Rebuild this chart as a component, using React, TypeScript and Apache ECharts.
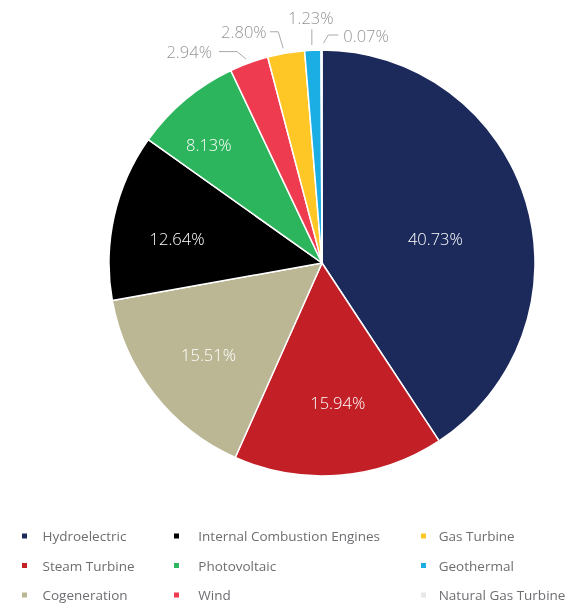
import React, { useEffect, useRef } from "react";
import * as echarts from "echarts";

// ---- data ----
const categories = [
  "Hydroelectric",
  "Steam Turbine",
  "Cogeneration",
  "Internal Combustion Engines",
  "Photovoltaic",
  "Wind",
  "Gas Turbine",
  "Geothermal",
  "Natural Gas Turbine",
];
const shares = [40.73, 15.94, 15.51, 12.64, 8.13, 2.94, 2.8, 1.23, 0.07];

// legend columns (row-major reading order of the reference legend)
const legendCol1 = ["Hydroelectric", "Steam Turbine", "Cogeneration"];
const legendCol2 = ["Internal Combustion Engines", "Photovoltaic", "Wind"];
const legendCol3 = ["Gas Turbine", "Geothermal", "Natural Gas Turbine"];

// ---- styles ----
const colors = [
  "#1b2a5a",
  "#c21f26",
  "#bbb795",
  "#000000",
  "#2db55d",
  "#ef3b50",
  "#ffc726",
  "#1aaee5",
  "#e6e7e8",
];
const LEGEND_FONT = "Open Sans";
const LABEL_FONT = "Open Sans";
const LABEL_SIZE = 16.5;
const CX = 322;
const CY = 263;
const R = 213;
// inside labels: radial distance and angular nudge (degrees, clockwise)
const insideGeom: Record<number, { r: number; da: number }> = {
  0: { r: 116, da: 4.5 },
  1: { r: 140, da: -1.8 },
  2: { r: 145.5, da: -0.7 },
  3: { r: 147, da: -3.1 },
  4: { r: 163.6, da: -3.8 },
};
// outside label leader geometry, offsets relative to the slice edge point
const outsideGeom: Record<number, any> = {
  5: { pts: [[-3, -4], [-12, -11.3], [-30, -11.3]], tx: -37, ty: -11.3, align: "right" },
  6: { pts: [[-2.8, -4.7], [-7.8, -21.3], [-16.1, -21.3]], tx: -19.4, ty: -21.3, align: "right" },
  7: { pts: [[-1, -5.2], [-1, -20.9]], tx: -2, ty: -33, align: "center" },
  8: { pts: [[1.8, -6.7], [6.8, -15], [16.8, -15]], tx: 21.8, ty: -15, align: "left" },
};

export default function App() {
  const ref = useRef<HTMLDivElement>(null);
  useEffect(() => {
    if (!ref.current) return;
    const chart = echarts.init(ref.current, undefined, { renderer: "svg" });

    const data = categories.map((name, i) => {
      const inside = i < 5;
      return {
        name,
        value: shares[i],
        itemStyle: { color: colors[i] },
        label: inside
          ? { position: "inside", color: "#ffffff" }
          : { position: "outside", color: "#939598" },
        labelLine: { show: !inside },
      };
    });

    const mkLegend = (items: string[], left: number, pad: number) => ({
      data: items,
      orient: "vertical",
      left,
      top: 528,
      height: 100,
      padding: 0,
      itemWidth: 7,
      itemHeight: 7,
      itemGap: 13.5,
      icon: "rect",
      selectedMode: false,
      textStyle: {
        color: "#6d6e71",
        fontSize: 13.5,
        fontFamily: LEGEND_FONT,
        lineHeight: 16,
        padding: [0, 0, 0, pad],
      },
    });

    chart.setOption({
      animation: false,
      textStyle: { fontFamily: LEGEND_FONT },
      legend: [
        mkLegend(legendCol1, 20, 9.5),
        mkLegend(legendCol2, 172, 13.3),
        mkLegend(legendCol3, 419, 6.7),
      ],
      series: [
        {
          type: "pie",
          center: [CX, CY],
          radius: [0, R],
          startAngle: 90,
          clockwise: true,
          avoidLabelOverlap: false,
          itemStyle: { borderColor: "#ffffff", borderWidth: 1.5 },
          label: {
            formatter: (p: any) => `${Number(p.value).toFixed(2)}%`,
            fontFamily: LABEL_FONT,
            fontSize: LABEL_SIZE,
            fontWeight: 300,
          },
          labelLine: {
            length: 8,
            length2: 10,
            lineStyle: { color: "#a7a9ac", width: 1 },
          },
          emphasis: { disabled: true },
          data,
          labelLayout: (params: any) => {
            const i = params.dataIndex;
            const lr = params.labelRect;
            if (i < 5) {
              const lx = lr.x + lr.width / 2;
              const ly = lr.y + lr.height / 2;
              const g = insideGeom[i];
              // clockwise angle from top
              const a = Math.atan2(lx - CX, -(ly - CY)) + (g.da * Math.PI) / 180;
              return {
                x: CX + Math.sin(a) * g.r,
                y: CY - Math.cos(a) * g.r,
                align: "center",
                verticalAlign: "middle",
              };
            }
            const g = outsideGeom[i];
            const pts = params.labelLinePoints;
            if (!g || !pts || !pts[0]) return {};
            const p0 = pts[0];
            return {
              x: p0[0] + g.tx,
              y: p0[1] + g.ty,
              align: g.align,
              verticalAlign: "middle",
              labelLinePoints: g.pts.map((o: number[]) => [p0[0] + o[0], p0[1] + o[1]]),
            };
          },
        },
      ],
    });
    return () => chart.dispose();
  }, []);
  return (
    <div
      ref={ref}
      style={{ position: "fixed", left: 0, top: 0, width: 580, height: 603 }}
    />
  );
}
